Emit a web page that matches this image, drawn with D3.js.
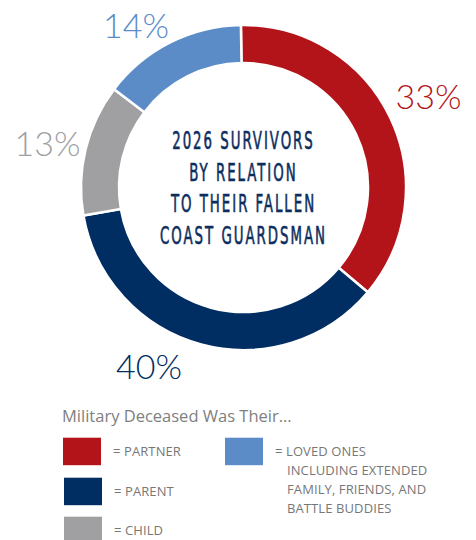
<!DOCTYPE html>
<html><head><meta charset="utf-8">
<script src="https://cdn.jsdelivr.net/npm/d3@7"></script>
<style>body{margin:0;background:#fff}svg{display:block}</style>
</head><body>
<svg id="c" width="476" height="540"></svg>
<script>
const categories = ["Partner","Parent","Child","Loved Ones"];
// arc shares as drawn in the picture
const values = [36.4, 36.1, 13.1, 14.4];
// printed percentage labels
const labels = ["33%","40%","13%","14%"];
const colors = ["#B3141A","#002D62","#A0A0A2","#5B8CC7"];
const titleLines = ["2026 SURVIVORS","BY RELATION","TO THEIR FALLEN","COAST GUARDSMAN"];
const legendTitle = "Military Deceased Was Their...";
const legendLines = [
  ["= PARTNER"],
  ["= PARENT"],
  ["= CHILD"],
  ["= LOVED ONES","INCLUDING EXTENDED","FAMILY, FRIENDS, AND","BATTLE BUDDIES"]
];

const svg = d3.select("#c");
const cx = 243.5, cy = 187.5, R = 162.5, r = 124.5;
const g = svg.append("g").attr("transform",`translate(${cx},${cy})`);
const start = -0.016;
const pie = d3.pie().sort(null).value(d=>d).startAngle(start).endAngle(start+2*Math.PI);
const arcs = pie(values);
const arc = d3.arc().innerRadius(r).outerRadius(R);
g.selectAll("path").data(arcs).join("path")
  .attr("d",arc).attr("fill",(d,i)=>colors[i])
  .attr("stroke","#fff").attr("stroke-width",2.5);

// percent labels
const labelPos = [[428.5,95.5],[149,365],[47.5,142],[136,24]];
svg.selectAll("text.pct").data(labels).join("text").attr("class","pct")
  .attr("x",(d,i)=>labelPos[i][0]).attr("y",(d,i)=>labelPos[i][1])
  .attr("text-anchor","middle").attr("dominant-baseline","central")
  .attr("font-family","Lato, 'Open Sans', sans-serif").attr("font-weight",300)
  .attr("font-size",34).attr("fill",(d,i)=>colors[i]).text(d=>d);

// title (condensed)
const tg = svg.append("g");
const tt = tg.selectAll("text.title").data(titleLines).join("text").attr("class","title")
  .attr("x",0).attr("y",(d,i)=>140.5+i*31.7)
  .attr("text-anchor","middle").attr("dominant-baseline","central")
  .attr("font-family","'DejaVu Sans Condensed', 'DejaVu Sans', sans-serif")
  .attr("font-size",24).attr("letter-spacing",3.2).attr("font-weight",400)
  .attr("fill","#0C2E5E").attr("stroke","#0C2E5E").attr("stroke-width",0.6)
  .text(d=>d);
let maxW = 0;
tt.each(function(){ maxW = Math.max(maxW, this.getComputedTextLength()); });
const sx = 167 / maxW;
tg.attr("transform",`translate(${cx},0) scale(${sx},1)`);

// legend
svg.append("text").attr("x",62).attr("y",415).attr("dominant-baseline","central")
  .attr("font-family","'Open Sans', sans-serif").attr("font-size",16.5)
  .attr("fill","#808080").text(legendTitle);

const legPos = [[63,437.7],[64,477.7],[64,516.7],[225,437.7]];
const lg = svg.selectAll("g.leg").data(legendLines).join("g").attr("class","leg")
  .attr("transform",(d,i)=>`translate(${legPos[i][0]},${legPos[i][1]})`);
lg.append("rect").attr("width",38).attr("height",27.5).attr("fill",(d,i)=>colors[i]);
lg.each(function(lines,i){
  const sel = d3.select(this);
  lines.forEach((t,j)=>{
    sel.append("text").attr("x", j===0?50:62).attr("y",13.5+j*18.9)
      .attr("dominant-baseline","central")
      .attr("font-family","'Open Sans', sans-serif").attr("font-size",13)
      .attr("letter-spacing",0.1).attr("fill","#777").text(t);
  });
});
</script>
</body></html>
